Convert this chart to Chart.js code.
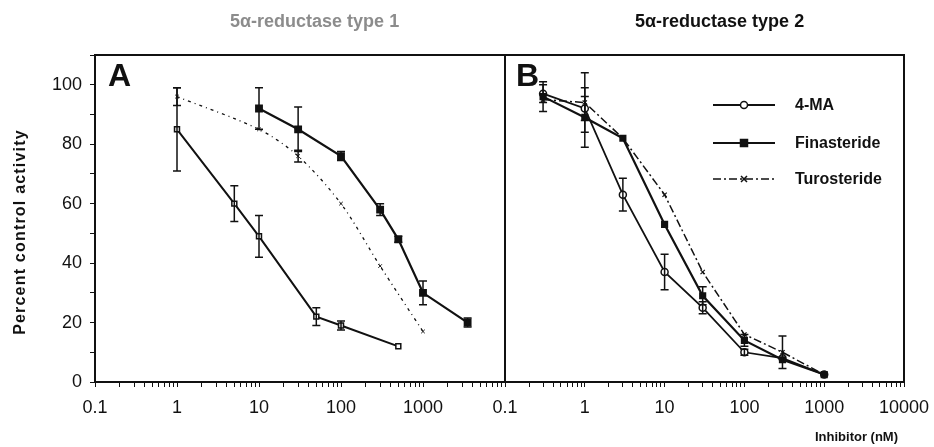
<!DOCTYPE html>
<html>
<head>
<meta charset="utf-8">
<script src="https://cdn.jsdelivr.net/npm/chart.js@4.4.0/dist/chart.umd.min.js"></script>
<style>
  body { margin: 0; background: #fff; }
  #wrap { position: relative; width: 934px; height: 447px; overflow: hidden;
          font-family: "Liberation Sans", Arial, sans-serif; color: #111; }
  canvas { position: absolute; top: 0; }
  .lbl { position: absolute; font-weight: bold; white-space: nowrap; line-height: 1; }
</style>
</head>
<body>
<div id="wrap">
  <canvas id="chartA" width="520" height="447" style="left:0"></canvas>
  <canvas id="chartB" width="444" height="447" style="left:490px"></canvas>
  <div class="lbl" style="left:230px;top:12px;font-size:18px;color:#8c8c8c">5α-reductase type 1</div>
  <div class="lbl" style="left:635px;top:12px;font-size:18px">5α-reductase type 2</div>
  <div class="lbl" style="left:108px;top:59px;font-size:32px">A</div>
  <div class="lbl" style="left:516px;top:59px;font-size:32px">B</div>
  <div class="lbl" style="left:-110px;top:224px;width:260px;text-align:center;font-size:16px;letter-spacing:1.2px;transform:rotate(-90deg)">Percent control activity</div>
  <div class="lbl" style="left:815px;top:430px;font-size:13px">Inhibitor (nM)</div>
</div>
<script>
// panel A - type 1
var aDose4MA = [1, 5, 10, 50, 100, 500];
var a4MA = [85, 60, 49, 22, 19, 12];
var a4MAErr = [14, 6, 7, 3, 1.5, 0];
var aDoseFin = [10, 30, 100, 300, 500, 1000, 3500];
var aFin = [92, 85, 76, 58, 48, 30, 20];
var aFinErr = [7, 7.5, 1.5, 2, 1, 4, 1.5];
var aDoseTuro = [1, 10, 30, 100, 300, 1000];
var aTuro = [96, 85, 76, 60, 39, 17];
var aTuroErr = [3, 0, 2, 0, 0, 0];

// panel B - type 2
var bDose = [0.3, 1, 3, 10, 30, 100, 300, 1000];
var b4MA = [97, 92, 63, 37, 25, 10, 8, 2.5];
var b4MAErr = [3, 4, 5.5, 6, 2, 1, 0, 0];
var bFin = [96, 89, 82, 53, 29, 14, 7.5, 2.5];
var bFinErr = [5, 10, 0, 0, 3, 2, 0, 0];
var bTuro = [95, 94, 82, 63, 37, 16, 10, 2.5];
var bTuroErr = [0, 10, 0, 0, 0, 0, 5.5, 0];

var xDecades = [0.1, 1, 10, 100, 1000, 10000];
var yLabels = [0, 20, 40, 60, 80, 100];

var INK = '#111';

function points(xs, ys) {
  return xs.map(function (x, i) { return { x: x, y: ys[i] }; });
}

var errorBars = {
  id: 'errorBars',
  afterDatasetsDraw: function (chart) {
    var ctx = chart.ctx, sx = chart.scales.x, sy = chart.scales.y;
    ctx.save();
    ctx.strokeStyle = INK;
    ctx.lineWidth = 1.5;
    chart.data.datasets.forEach(function (ds) {
      if (!ds.errors) return;
      ds.data.forEach(function (p, i) {
        var e = ds.errors[i];
        if (!e) return;
        var px = sx.getPixelForValue(p.x);
        var top = sy.getPixelForValue(p.y + e), bot = sy.getPixelForValue(p.y - e);
        ctx.beginPath();
        ctx.moveTo(px, top); ctx.lineTo(px, bot);
        ctx.moveTo(px - 4, top); ctx.lineTo(px + 4, top);
        ctx.moveTo(px - 4, bot); ctx.lineTo(px + 4, bot);
        ctx.stroke();
      });
    });
    ctx.restore();
  }
};

var frame = {
  id: 'frame',
  afterDraw: function (chart) {
    var a = chart.chartArea, ctx = chart.ctx;
    ctx.save();
    ctx.strokeStyle = INK;
    ctx.lineWidth = 2;
    ctx.strokeRect(a.left, a.top, a.right - a.left, a.bottom - a.top);
    ctx.restore();
  }
};

function drawMarker(ctx, style, x, y, r, fill) {
  ctx.beginPath();
  if (style === 'circle') {
    ctx.arc(x, y, r, 0, Math.PI * 2);
  } else if (style === 'rect') {
    ctx.rect(x - r, y - r, r * 2, r * 2);
  } else {
    ctx.moveTo(x - r, y - r); ctx.lineTo(x + r, y + r);
    ctx.moveTo(x + r, y - r); ctx.lineTo(x - r, y + r);
  }
  if (style !== 'crossRot') { ctx.fillStyle = fill; ctx.fill(); }
  ctx.stroke();
}

// line-with-marker legend inside panel B
var lineLegend = {
  id: 'lineLegend',
  afterDraw: function (chart) {
    var a = chart.chartArea, ctx = chart.ctx;
    var x0 = a.left + 208, x1 = a.left + 270, tx = a.left + 290;
    var rows = [50, 88, 124];
    ctx.save();
    chart.data.datasets.slice().reverse().forEach(function (ds, i) {
      var y = a.top + rows[i];
      ctx.strokeStyle = INK;
      ctx.lineWidth = ds.borderWidth;
      ctx.setLineDash(ds.borderDash || []);
      ctx.beginPath();
      ctx.moveTo(x0, y); ctx.lineTo(x1, y);
      ctx.stroke();
      ctx.setLineDash([]);
      ctx.lineWidth = 1.5;
      drawMarker(ctx, ds.pointStyle, (x0 + x1) / 2, y, ds.pointRadius, ds.pointBackgroundColor);
      ctx.fillStyle = INK;
      ctx.font = 'bold 16px "Liberation Sans", Arial, sans-serif';
      ctx.textBaseline = 'middle';
      ctx.fillText(ds.label, tx, y + 1);
    });
    ctx.restore();
  }
};

function xAxis(hideLast) {
  return {
    type: 'logarithmic',
    min: 0.1,
    max: 10000,
    afterBuildTicks: function (s) {
      var t = [];
      xDecades.forEach(function (d) {
        for (var k = 1; k < 10; k++) {
          if (d * k <= 10000) t.push({ value: d * k });
        }
      });
      s.ticks = t;
    },
    afterFit: function (s) {
      s.height = 65;
      s.paddingLeft = 0;
      s.paddingRight = 0;
    },
    ticks: {
      autoSkip: false,
      maxRotation: 0,
      padding: 10,
      color: INK,
      font: { size: 18, family: '"Liberation Sans", Arial, sans-serif' },
      callback: function (v) {
        if (xDecades.indexOf(v) < 0) return '';
        if (hideLast && v === 10000) return '';
        return String(v);
      }
    },
    grid: { drawOnChartArea: false, drawTicks: true, tickLength: 5, color: INK },
    border: { color: INK, width: 2 }
  };
}

function yAxis(width, labels) {
  return {
    min: 0,
    max: 110,
    afterFit: function (s) {
      s.width = width;
      s.paddingTop = 0;
      s.paddingBottom = 0;
    },
    ticks: {
      display: labels,
      stepSize: 10,
      padding: 8,
      color: INK,
      font: { size: 18, family: '"Liberation Sans", Arial, sans-serif' },
      callback: function (v) { return yLabels.indexOf(v) >= 0 ? String(v) : ''; }
    },
    grid: { drawOnChartArea: false, drawTicks: labels, tickLength: 5, color: INK },
    border: { color: INK, width: 2 }
  };
}

function baseOptions(rightPad, yWidth, yLabelsOn, hideLast) {
  return {
    responsive: false,
    animation: false,
    layout: { padding: { top: 55, right: rightPad, left: 0, bottom: 0 } },
    plugins: { legend: { display: false }, tooltip: { enabled: false } },
    scales: { x: xAxis(hideLast), y: yAxis(yWidth, yLabelsOn) }
  };
}

new Chart(document.getElementById('chartA'), {
  type: 'line',
  data: {
    datasets: [
      {
        label: 'Turosteride',
        data: points(aDoseTuro, aTuro), errors: aTuroErr,
        borderColor: INK, borderWidth: 1.3, borderDash: [3, 4, 1, 4],
        pointStyle: 'crossRot', pointRadius: 2.5, pointBorderColor: INK, pointBorderWidth: 1,
        tension: 0.3
      },
      {
        label: 'Finasteride',
        data: points(aDoseFin, aFin), errors: aFinErr,
        borderColor: INK, borderWidth: 2.2,
        pointStyle: 'rect', pointRadius: 4, pointBackgroundColor: INK, pointBorderColor: INK,
        tension: 0
      },
      {
        label: '4-MA',
        data: points(aDose4MA, a4MA), errors: a4MAErr,
        borderColor: INK, borderWidth: 2,
        pointStyle: 'rect', pointRadius: 3.5, pointBackgroundColor: '#fff', pointBorderColor: INK, pointBorderWidth: 1.5,
        tension: 0
      }
    ]
  },
  options: baseOptions(15, 95, true, true),
  plugins: [errorBars, frame]
});

new Chart(document.getElementById('chartB'), {
  type: 'line',
  data: {
    datasets: [
      {
        label: 'Turosteride',
        data: points(bDose, bTuro), errors: bTuroErr,
        borderColor: INK, borderWidth: 1.5, borderDash: [8, 3, 2, 3],
        pointStyle: 'crossRot', pointRadius: 3, pointBackgroundColor: INK, pointBorderColor: INK, pointBorderWidth: 1.2,
        tension: 0
      },
      {
        label: 'Finasteride',
        data: points(bDose, bFin), errors: bFinErr,
        borderColor: INK, borderWidth: 2.2,
        pointStyle: 'rect', pointRadius: 3.5, pointBackgroundColor: INK, pointBorderColor: INK,
        tension: 0
      },
      {
        label: '4-MA',
        data: points(bDose, b4MA), errors: b4MAErr,
        borderColor: INK, borderWidth: 1.8,
        pointStyle: 'circle', pointRadius: 3.5, pointBackgroundColor: '#fff', pointBorderColor: INK, pointBorderWidth: 1.5,
        tension: 0
      }
    ]
  },
  options: baseOptions(30, 15, false, false),
  plugins: [errorBars, frame, lineLegend]
});
</script>
</body>
</html>
